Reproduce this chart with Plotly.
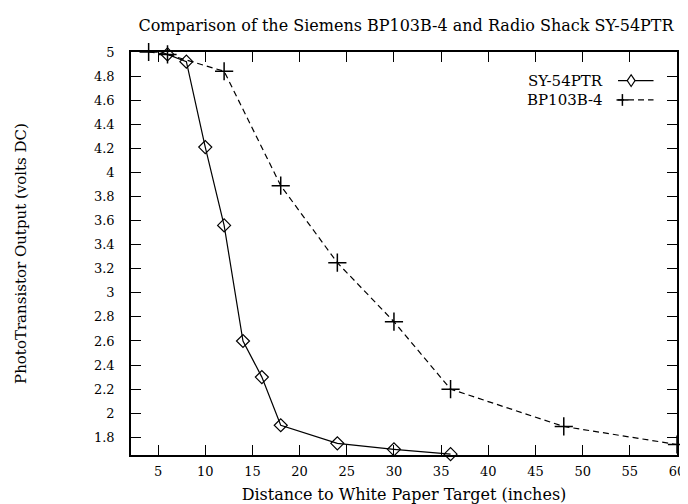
import plotly.graph_objects as go

# Data
sy_x = [4, 6, 8, 10, 12, 14, 16, 18, 24, 30, 36]
sy_y = [5.04, 4.98, 4.92, 4.21, 3.56, 2.60, 2.30, 1.90, 1.75, 1.70, 1.66]
bp_x = [4, 6, 12, 18, 24, 30, 36, 48, 60]
bp_y = [5.00, 4.98, 4.84, 3.89, 3.25, 2.76, 2.20, 1.89, 1.74]
x_ticks = [5, 10, 15, 20, 25, 30, 35, 40, 45, 50, 55, 60]
y_ticks = [1.8, 2, 2.2, 2.4, 2.6, 2.8, 3, 3.2, 3.4, 3.6, 3.8, 4, 4.2, 4.4, 4.6, 4.8, 5]
y_tick_text = ["1.8", "2", "2.2", "2.4", "2.6", "2.8", "3", "3.2", "3.4", "3.6", "3.8",
               "4", "4.2", "4.4", "4.6", "4.8", "5"]
series_names = ["SY-54PTR", "BP103B-4"]

FONT = "DejaVu Serif"

fig = go.Figure()
fig.add_trace(go.Scatter(
    x=sy_x, y=sy_y, mode="lines+markers", name=series_names[0],
    line=dict(color="black", width=1.2),
    marker=dict(symbol="diamond-open", size=10, color="black", line=dict(width=1.2)),
    cliponaxis=False, showlegend=False))
fig.add_trace(go.Scatter(
    x=bp_x, y=bp_y, mode="lines+markers", name=series_names[1],
    line=dict(color="black", width=1.2, dash="6px,4px"),
    marker=dict(symbol="cross-thin", size=13, color="black", line=dict(width=1.5, color="black")),
    cliponaxis=False, showlegend=False))

axis_common = dict(showline=True, linecolor="black", linewidth=1.5, mirror="ticks",
                   ticks="inside", ticklen=10, tickwidth=1.2, tickcolor="black",
                   showgrid=False, zeroline=False,
                   tickfont=dict(family=FONT, size=13, color="black"))

fig.update_xaxes(range=[2.13, 60], tickvals=x_ticks, ticklabelstandoff=4,
                 title=dict(text="Distance to White Paper Target (inches)",
                            font=dict(family=FONT, size=16, color="black"), standoff=10),
                 **axis_common)
fig.update_yaxes(range=[1.653, 5], tickvals=y_ticks, ticktext=y_tick_text,
                 ticklabelstandoff=12,
                 title=dict(text="PhotoTransistor Output (volts DC)",
                            font=dict(family=FONT, size=15, color="black"), standoff=64),
                 **axis_common)

# Manual legend (text left, sample right, as in gnuplot)
leg_rows = [(0.929, series_names[0], "solid"), (0.881, series_names[1], "6px,4px")]
shapes = []
annotations = []
for ly, name, dash in leg_rows:
    annotations.append(dict(xref="paper", yref="paper", x=0.868, y=ly, text=name,
                            showarrow=False, xanchor="right", yanchor="middle",
                            font=dict(family=FONT, size=15, color="black")))
    shapes.append(dict(type="line", xref="paper", yref="paper", x0=0.892, x1=0.957,
                       y0=ly, y1=ly, line=dict(color="black", width=1.2, dash=dash)))
# legend marker glyphs
cx = 0.916
dx = 4 / 558
dy = 6 / 411
ly = leg_rows[0][0]
shapes.append(dict(type="path", xref="paper", yref="paper",
                   path=f"M {cx-dx} {ly} L {cx} {ly+dy} L {cx+dx} {ly} L {cx} {ly-dy} Z",
                   line=dict(color="black", width=1.2), fillcolor="white"))
ly = leg_rows[1][0]
cx2 = 0.9
shapes.append(dict(type="line", xref="paper", yref="paper", x0=cx2 - 6/558, x1=cx2 + 6/558,
                   y0=ly, y1=ly, line=dict(color="black", width=1.5)))
shapes.append(dict(type="line", xref="paper", yref="paper", x0=cx2, x1=cx2,
                   y0=ly - 6/411, y1=ly + 6/411, line=dict(color="black", width=1.5)))

fig.update_layout(
    width=688, height=504,
    margin=dict(l=119, r=11, t=44, b=49),
    paper_bgcolor="white", plot_bgcolor="white",
    title=dict(text="Comparison of the Siemens BP103B-4 and Radio Shack SY-54PTR",
               x=(119 + 677) / 2 / 688, xanchor="center", y=0.965, yanchor="middle",
               font=dict(family=FONT, size=16, color="black")),
    shapes=shapes, annotations=annotations,
)

fig.write_html("out.html")
